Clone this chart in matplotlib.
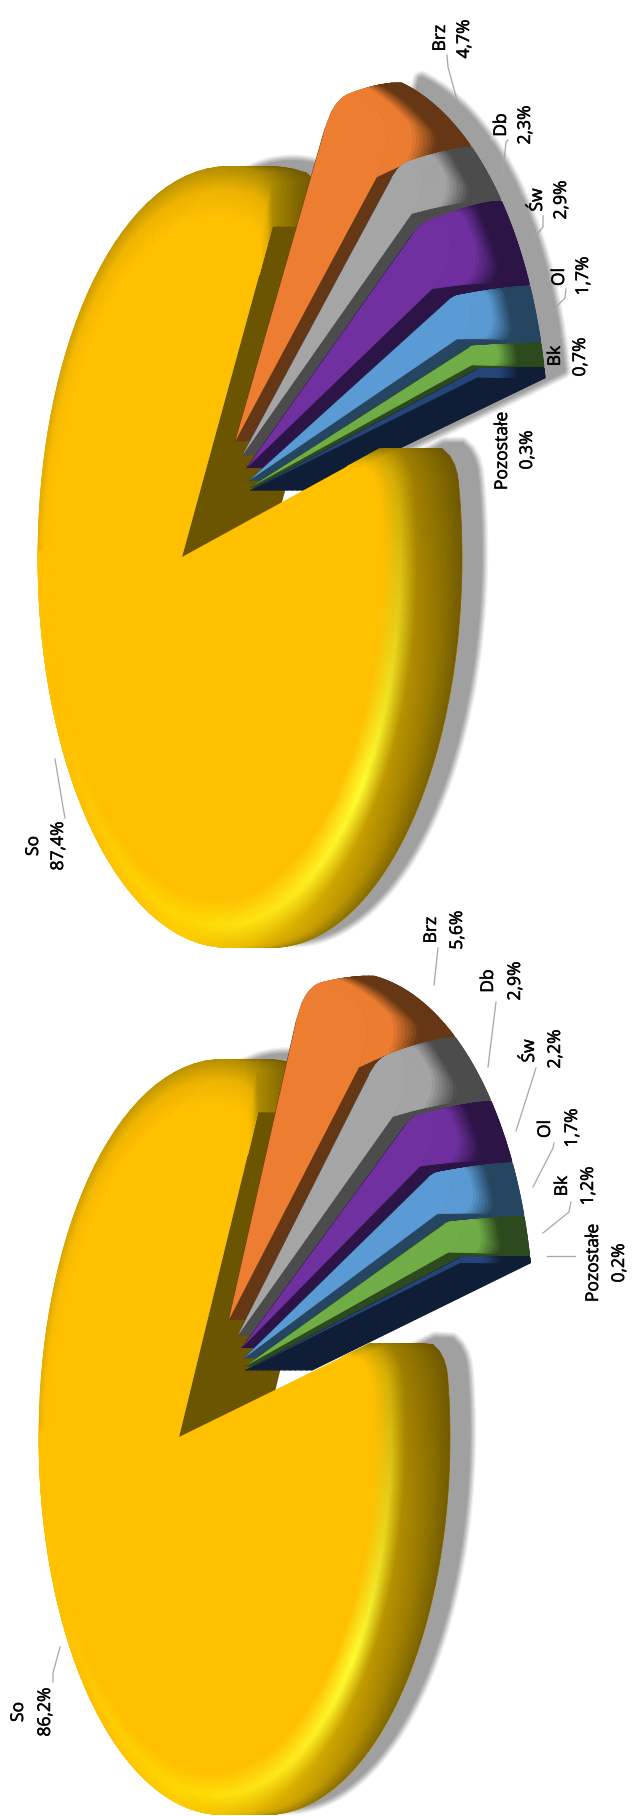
# coding: utf-8

import numpy as np
import matplotlib.pyplot as plt
import matplotlib.patheffects as pe
from matplotlib.collections import PolyCollection
from matplotlib.colors import to_rgb

names = ['So', 'Brz', 'Db', 'Św', 'Ol', 'Bk', 'Pozostałe']
share_top = [87.4, 4.7, 2.3, 2.9, 1.7, 0.7, 0.3]
share_bot = [86.2, 5.6, 2.9, 2.2, 1.7, 1.2, 0.2]
face_cols = ['#FFC000', '#ED7D31', '#A5A5A5', '#7030A0', '#5B9BD5', '#70AD47', '#264478']
dark_cols = ['#6B5500', '#663714', '#4C4C4C', '#2C1546', '#254560', '#2D4A1E', '#0F1E36']

# label centres (first line, second line)
pos_top = [[(34, 846), (59, 846)], [(441, 38), (465, 39)], [(502, 125), (526, 125)], [(538, 200), (562, 200)],
           [(560, 277), (584, 276)], [(556, 356), (581, 357)], [(503, 451), (528, 450)]]
pos_bot = [[(19, 1712), (46, 1712)], [(432, 930), (458, 930)], [(489, 981), (516, 981)], [(530, 1051), (556, 1049)],
           [(546, 1129), (573, 1128)], [(563, 1186), (589, 1186)], [(594, 1263), (620, 1263)]]
lead_top = [[(65, 818), (63, 807), (55, 759)], [(447, 55), (448, 67), (457, 100)], [(508, 140), (506, 142), (503, 172)],
            [(543, 216), (543, 227), (530, 243)], [(566, 289), (565, 298), (550, 313)]]
lead_bot = [[(53, 1682), (53, 1673), (60, 1647)], [(438, 948), (434, 985)], [(496, 1002), (488, 1067)],
            [(536, 1068), (516, 1131)], [(554, 1143), (553, 1148), (533, 1187)],
            [(571, 1202), (569, 1212), (543, 1233)], [(575, 1256), (547, 1256)]]

# So wall shading, columns are the profile steps, rows the angles round the pie
shade_ang = [-15, 30, 60, 90, 120, 150, 210, 250, 300]
shade_s = [0, .3, .55, .8, 1]
shade_tab = [['#FFC000', '#C9A000', '#9A7B00', '#806700', '#6B5500'],
             ['#FFC000', '#FFFF33', '#C09A00', '#A08000', '#7A6200'],
             ['#FFC000', '#FFE818', '#E0B400', '#C9A000', '#8A7000'],
             ['#FFC000', '#FFD800', '#FFCC00', '#D4A900', '#B89300'],
             ['#FFC000', '#FFCC00', '#FFC000', '#E0B000', '#C9A000'],
             ['#FFC000'] * 5,
             ['#FFC000'] * 5,
             ['#FFC000', '#FFC000', '#F0B400', '#D4A900', '#B89300'],
             ['#FFC000', '#E8B000', '#A88800', '#7F6600', '#6B5500']]
shade_tab = np.array([[to_rgb(c) for c in row] for row in shade_tab])

fig = plt.figure(figsize=(6.32, 18.16), dpi=100)
ax = fig.add_axes([0, 0, 1, 1])
ax.set_xlim(0, 632)
ax.set_ylim(1816, 0)
ax.axis('off')


def project(p, u, v, dx=0.0):
    w = 1 - p['k'] * u
    return p['cx'] + p['a'] * u / w + dx, p['cy'] + p['b'] * v / w


def rounded(th, t0, t1, r, rho):
    arc = np.minimum(th - t0, t1 - th) * r
    out = np.full_like(th, r, dtype=float)
    m = arc < rho
    out[m] = r - rho + np.sqrt(np.maximum(rho**2 - (rho - arc[m])**2, 0))
    return out


def arc_xy(p, org, th, r, dx=0.0):
    return project(p, org[0] + r * np.cos(th), org[1] + r * np.sin(th), dx)


def ring(p, org, th, t0, t1, r, rho, dx, inset):
    # one step of the profile: its far end is pulled back by inset, corner radius rho
    end = t1 - inset
    tj = t0 + (th - th[0]) * (end - t0) / (t1 - th[0]) if th[-1] >= t1 - 1e-9 else th
    return arc_xy(p, org, tj, rounded(tj, t0, end, r, rho), dx)


def band(p, org, th, rs, dxs, colfun, t0, t1, rhos, insets, z):
    polys = []
    cols = []
    for j in range(len(rs) - 2, -1, -1):
        xo, yo = ring(p, org, th, t0, t1, rs[j + 1], rhos[j + 1], dxs[j + 1], insets[j + 1])
        xi, yi = ring(p, org, th, t0, t1, rs[j], rhos[j], dxs[j], insets[j])
        for i in range(len(th) - 1):
            polys.append([(xi[i], yi[i]), (xi[i + 1], yi[i + 1]), (xo[i + 1], yo[i + 1]), (xo[i], yo[i])])
            cols.append(colfun(th[i], (j + .5) / (len(rs) - 1)))
    ax.add_collection(PolyCollection(polys, facecolors=cols, edgecolors=cols, linewidths=.5, zorder=z))


def so_col(t, s):
    d = np.degrees(t)
    row = [np.interp(d, shade_ang, shade_tab[:, i, 0]) for i in range(5)], \
          [np.interp(d, shade_ang, shade_tab[:, i, 1]) for i in range(5)], \
          [np.interp(d, shade_ang, shade_tab[:, i, 2]) for i in range(5)]
    return tuple(np.interp(s, shade_s, c) for c in row)


def shadow(x, y):
    # outer layers get the lower zorder so neighbouring shadows merge
    for k, (lw, g) in enumerate(zip([9, 7, 5, 3, 1], ['#F0F0F0', '#DCDCDC', '#C8C8C8', '#B4B4B4', '#A6A6A6'])):
        ax.fill(x, y, fc=g, ec=g, lw=lw, zorder=1 + k * .1, joinstyle='round')
    ax.fill(x, y, fc='#A0A0A0', ec='none', zorder=1.6)


def draw_pie(p, shares, pos, leads, slice_shadow):
    z = 2
    t0 = np.radians(p['start'])
    t1 = t0 + np.radians(shares[0] * 3.6)
    th = np.linspace(t0, t1, 260)
    rf = p['rflat']
    org = (0.0, 0.0)
    rho = .10

    # profile: bevel grows the radius, then the wall moves along x
    n = 40
    ss = np.linspace(0, 1, n + 1)
    rs = np.where(ss < .55, rf + (1 - rf) * ss / .55, 1.0)
    dxs = np.where(ss < .55, 0.0, p['E'] * (ss - .55) / .45)
    so_rho = np.full(n + 1, rho)
    so_in = np.zeros(n + 1)

    sx, sy = arc_xy(p, org, th, rounded(th, t0, t1, 1.0, rho), p['E'] + p['shx'])
    shadow(np.r_[p['cx'] + p['E'] + p['shx'], sx], np.r_[p['cy'], sy] + p['shy'])

    # wall of the far radial edge, seen through the gap
    xc, yc = arc_xy(p, org, np.array([t1]), .97)
    ax.fill([p['cx'], p['cx'] + p['E2'], xc[0] + p['E2'], xc[0]], [p['cy'], p['cy'], yc[0], yc[0]],
            color=dark_cols[0], lw=0, zorder=z)
    far = th >= np.pi
    near = th <= th[far][0]
    band(p, org, th[far], rs, dxs, so_col, t0, t1, so_rho, so_in, z + .1)

    # exploded small slices, top one first; the outer arcs lie on one common circle
    a = np.radians(p['small_start'])
    c = (p['ou'], p['ov'])
    for i in range(1, len(shares)):
        z += 1
        da = np.radians(shares[i] * 3.6 * p['spread'])
        mid = a + da / 2
        o = (p['gu'] + p['ex'] * np.cos(mid), p['gv'] + p['ex'] * np.sin(mid))
        tt = np.linspace(a, a + da, 40)
        r = p['rs']
        corner = min(.10, .45 * da * r)
        sn = np.linspace(0, 1, 25)
        # corners are round on the face and nearly sharp at the back of the wall
        sm_rho = corner * (1 - sn) ** 1.5 + .004
        sm_in = min(np.radians(3.0), .25 * da) * (1 - sn)
        sm_rs = np.full(25, r)
        sm_dx = p['Es'] * sn
        fc = np.array(to_rgb(face_cols[i]))
        dc = np.array(to_rgb(dark_cols[i]))

        def col(t, s):
            f = np.clip((s - .28) / .3, 0, 1)
            return tuple(fc + (dc - fc) * f)

        ax_, ay_ = project(p, o[0], o[1])
        fx, fy = ring(p, c, tt, a, a + da, r, sm_rho[0], 0.0, sm_in[0])
        bx, by = ring(p, c, tt, a, a + da, r, sm_rho[-1], p['Es'], 0.0)
        if slice_shadow:
            shadow(np.r_[ax_ + p['Es'], bx] + p['shx'], np.r_[ay_, by] + p['shy'])
        # solid dark body swept along x, only the upper corner is rounded here
        for j in range(0, 25, 2):
            x, y = arc_xy(p, c, tt, rounded(tt, a, a + da + 1.0, r, sm_rho[j]), sm_dx[j])
            ax.fill(np.r_[ax_ + sm_dx[j], x], np.r_[ay_, y], color=dark_cols[i], lw=.6, zorder=z)
        ax.fill([ax_, ax_ + p['Es'], bx[-1], bx[-1] - p['Es']], [ay_, ay_, by[-1], by[-1]], color=dark_cols[i],
                lw=0, zorder=z)
        band(p, c, tt, sm_rs, sm_dx, col, a, a + da, sm_rho, sm_in, z + .1)
        ax.fill(np.r_[ax_, fx], np.r_[ay_, fy], color=face_cols[i], lw=0, zorder=z + .2)
        a = a + da

    # near half of the big slice and its top goes over the small ones
    z += 1
    band(p, org, th[near], rs, dxs, so_col, t0, t1, so_rho, so_in, z)
    fx, fy = arc_xy(p, org, th, rounded(th, t0, t1, rf, rho))
    ax.fill(np.r_[p['cx'], fx], np.r_[p['cy'], fy], color=face_cols[0], lw=0, zorder=z + .1)

    for ld in leads:
        lx, ly = zip(*ld)
        ax.plot(lx, ly, color='#A6A6A6', lw=.9, zorder=30)
    for nm, val, (p1, p2) in zip(names, shares, pos):
        ax.text(p1[0], p1[1], nm, **txt)
        ax.text(p2[0], p2[1], f'{val:.1f}%'.replace('.', ','), **txt)


txt = dict(rotation=90, ha='center', va='center', fontsize=12.6, family='Open Sans', color='black', zorder=31,
           path_effects=[pe.withStroke(linewidth=.35, foreground='black')])

top = dict(cx=182, cy=557, a=178.6, b=379, k=.24, E=45, E2=85, Es=62, start=-14.5, small_start=-60.6, spread=1.156,
           rflat=.88, rs=.96, ou=.25, ov=-.2, ex=.2, gu=.152, gv=-.13, shx=20, shy=-6)
bot = dict(cx=179, cy=1437, a=172.9, b=367, k=.235, E=45, E2=85, Es=66, start=-13, small_start=-66.7, spread=1.17,
           rflat=.89, rs=.95, ou=.25, ov=-.2, ex=.2, gu=.155, gv=-.135, shx=20, shy=-6)

draw_pie(top, share_top, pos_top, lead_top, True)
draw_pie(bot, share_bot, pos_bot, lead_bot, False)

fig.savefig('out.png', dpi=100, facecolor='white')
